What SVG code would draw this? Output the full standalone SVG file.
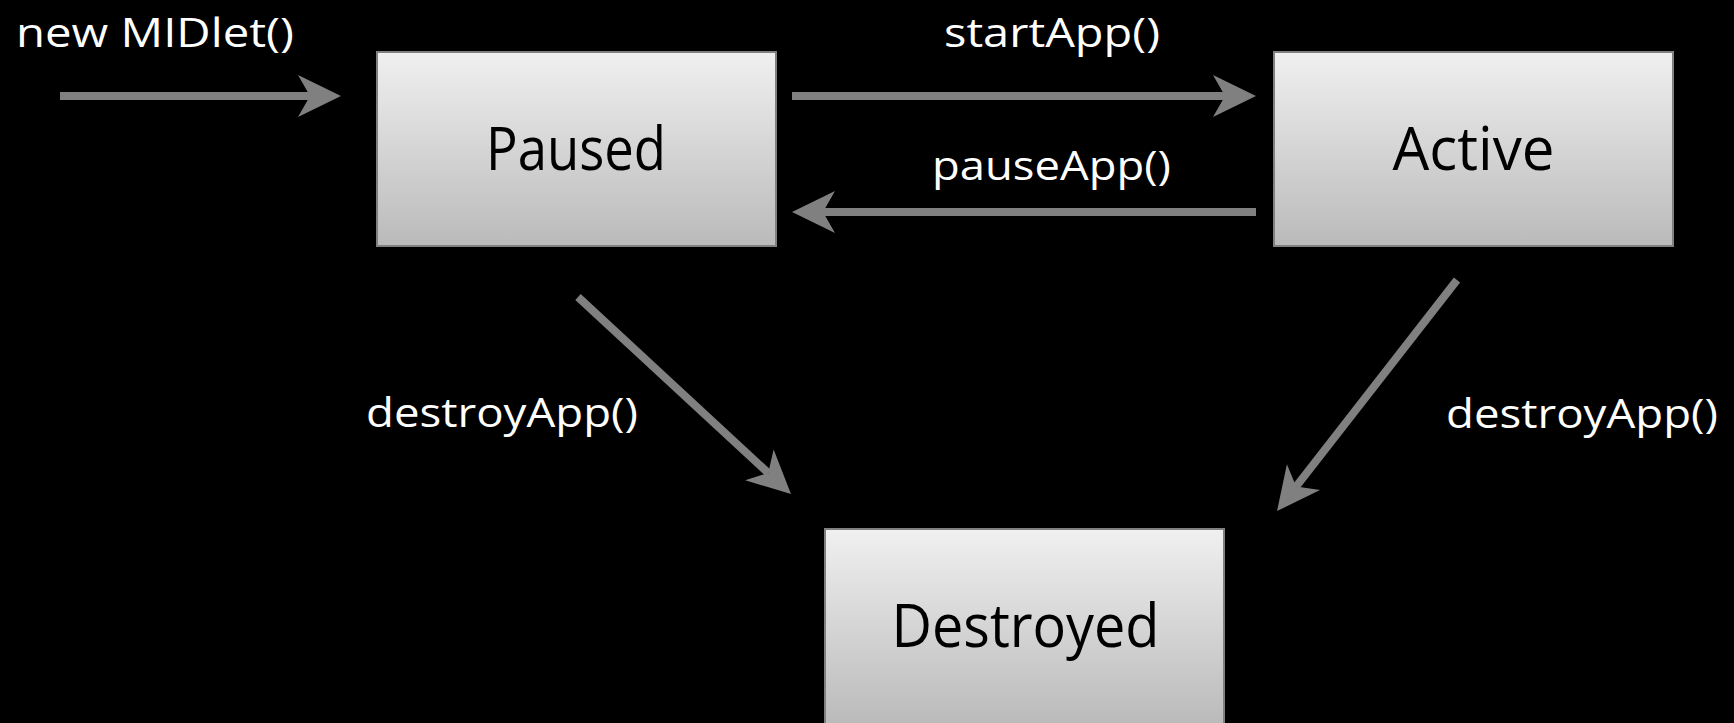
<svg xmlns="http://www.w3.org/2000/svg" width="1734" height="723" viewBox="0 0 1734 723">
  <defs>
    <linearGradient id="boxFill" x1="0" y1="0" x2="0" y2="1">
      <stop offset="0" stop-color="#f0f0f0"/>
      <stop offset="1" stop-color="#bababa"/>
    </linearGradient>
    <!-- notched arrowhead; origin sits at the notch, tip is 31 units ahead -->
    <marker id="head" markerUnits="userSpaceOnUse" viewBox="-14 -24 48 48" markerWidth="48" markerHeight="48" refX="0" refY="0" orient="auto" overflow="visible">
      <path d="M31,0 L-12,-21 L0,0 L-12,21 Z" fill="#808080"/>
    </marker>
    <style>
      .state rect { fill: url(#boxFill); stroke: #808080; stroke-width: 2; }
      .state text { font-family: "Open Sans", "Liberation Sans", sans-serif; font-size: 60px; fill: #000; text-anchor: middle; }
      .label { font-family: "Open Sans", "Liberation Sans", sans-serif; font-size: 41px; fill: #fff; text-anchor: middle; }
      .edge { stroke: #808080; stroke-width: 8; fill: none; marker-end: url(#head); }
    </style>
  </defs>

  <rect x="0" y="0" width="1734" height="723" fill="#000"/>

  <g id="paused" class="state">
    <rect x="377" y="52" width="399" height="194"/>
    <text x="576" y="170" textLength="180" lengthAdjust="spacingAndGlyphs">Paused</text>
  </g>

  <g id="active" class="state">
    <rect x="1274" y="52" width="399" height="194"/>
    <text x="1473.5" y="170" textLength="162" lengthAdjust="spacingAndGlyphs">Active</text>
  </g>

  <g id="destroyed" class="state">
    <rect x="825" y="529" width="399" height="196"/>
    <text x="1025.5" y="647" textLength="268" lengthAdjust="spacingAndGlyphs">Destroyed</text>
  </g>

  <g id="connectors">
    <path class="edge" d="M60,96 L310,96"/>
    <path class="edge" d="M792,96 L1225,96"/>
    <path class="edge" d="M1256,212 L823,212"/>
    <path class="edge" d="M578,297 L768.2,473"/>
    <path class="edge" d="M1457,280 L1296.1,486.6"/>
  </g>

  <g id="labels">
    <text class="label" x="155" y="47" textLength="278" lengthAdjust="spacingAndGlyphs">new MIDlet()</text>
    <text class="label" x="1052" y="47" textLength="216" lengthAdjust="spacingAndGlyphs">startApp()</text>
    <text class="label" x="1051.5" y="180" textLength="239" lengthAdjust="spacingAndGlyphs">pauseApp()</text>
    <text class="label" x="502" y="427" textLength="272" lengthAdjust="spacingAndGlyphs">destroyApp()</text>
    <text class="label" x="1582" y="428" textLength="272" lengthAdjust="spacingAndGlyphs">destroyApp()</text>
  </g>
</svg>
